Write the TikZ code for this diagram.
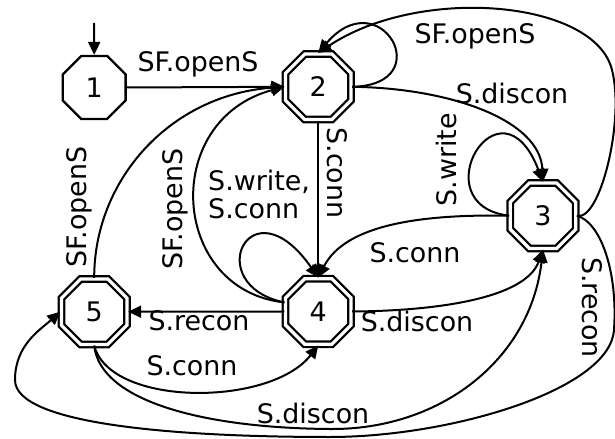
\documentclass[tikz,border=0pt]{standalone}
\usepackage{fontspec}
\setmainfont{DejaVu Sans}
\usetikzlibrary{shapes.geometric,arrows.meta}
\begin{document}
\begin{tikzpicture}[x=1bp,y=-1bp,
  every node/.style={font=\fontsize{27}{28}\selectfont},
  state/.style={draw, regular polygon, regular polygon sides=8,
    minimum size=68bp, inner sep=0pt, line width=2.3bp},
  accept/.style={state, minimum size=70.9bp, double, double distance=3.2bp},
  trans/.style={line width=2bp, -{Triangle[length=13bp,width=12bp]}},
  lbl/.style={inner sep=0pt, anchor=base}]
\useasboundingbox (0,0) rectangle (615,439);

% states
\node[state]  (n1) at (94.2,87.5)  {1};
\node[accept] (n2) at (318.3,86.8) {2};
\node[accept] (n3) at (543,215.7)  {3};
\node[accept] (n4) at (318.3,311.5) {4};
\node[accept] (n5) at (94.2,311.7) {5};

% initial arrow
\coordinate (init) at (94.2,23);
\draw[trans] (init) -- (n1.north);

% 1 -> 2
\draw[trans] (n1.east) -- (n2.west);
\node[lbl] (l12) at (198,72) {SF.openS};

% 2 -> 2 and 3 -> 2
\draw[trans] (n2.east) .. controls (440,85) and (380,-20) .. (n2.north);
\draw[trans] (n3.east) .. controls (600,222) and (625,120) .. (612,70)
  .. controls (595,0) and (420,-15) .. (n2.north);
\node[lbl] (l32) at (475,43.5) {SF.openS};

% 2 -> 3
\draw[trans] (n2.east) .. controls (450,88) and (540,120) .. (n3.north);
\node[lbl] (l23) at (512,104) {S.discon};

% 3 -> 3
\draw[trans] (n3.west) .. controls (420,205) and (500,70) .. (n3.north);
\node[lbl, rotate=90] (l33) at (456,160) {S.write};

% 3 -> 4
\draw[trans] (n3.west) .. controls (420,214) and (345,225) .. (n4.north);
\node[lbl] (l34) at (415,263) {S.conn};

% 2 -> 4
\draw[trans] (n2.south) -- (n4.north);
\node[lbl, rotate=-90] (l24) at (327,173) {S.conn};

% 4 -> 4
\draw[trans] (n4.165) .. controls (200,285) and (250,180) .. (n4.north);
\node[align=left, anchor=north west, inner sep=0pt] (l44) at (208,169.5) {S.write,\\S.conn};

% 4 -> 2
\draw[trans] (n4.165) .. controls (170,290) and (160,120) .. (n2.west);
\node[lbl, rotate=90] (l42) at (182,209) {SF.openS};

% 5 -> 2
\draw[trans] (n5.north) .. controls (94,180) and (170,95) .. (n2.west);
\node[lbl, rotate=90] (l52) at (86.5,207) {SF.openS};

% 4 -> 5
\draw[trans] (n4.west) -- (n5.east);
\node[lbl] (l45) at (199,330) {S.recon};

% 4 -> 3
\draw[trans] (n4.east) .. controls (430,311) and (525,300) .. (n3.south);
\node[lbl] (l43) at (417,331.5) {S.discon};

% 5 -> 4
\draw[trans] (n5.south) .. controls (110,407) and (270,407) .. (n4.south);
\node[lbl] (l54) at (192,375) {S.conn};

% 5 -> 3
\draw[trans] (n5.south) .. controls (100,400) and (200,428) .. (330,429)
  .. controls (440,430) and (530,360) .. (n3.south);
\node[lbl] (l53) at (313,423) {S.discon};

% 3 -> 5
\draw[trans] (n3.east) .. controls (600,222) and (618,270) .. (614,330)
  .. controls (610,390) and (450,437) .. (330,437)
  .. controls (180,437) and (15,425) .. (15,380)
  .. controls (15,345) and (40,330) .. (n5.west);
\node[lbl, rotate=-90] (l35) at (582,307.5) {S.recon};
\end{tikzpicture}
\end{document}
